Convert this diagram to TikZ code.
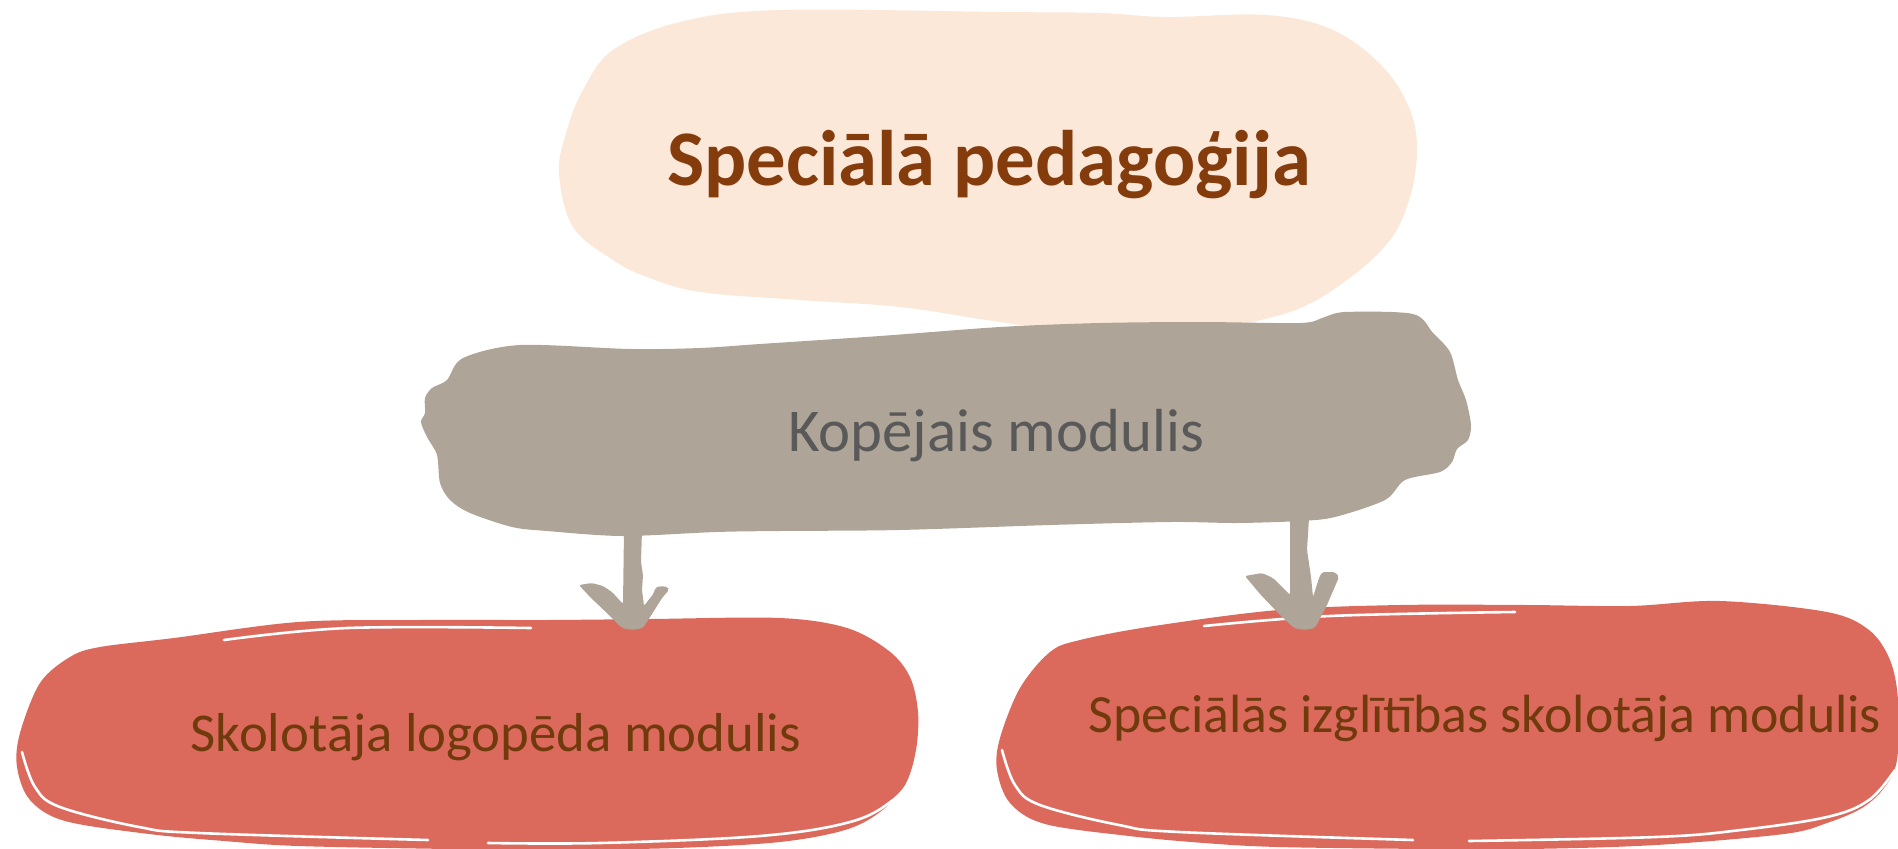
\documentclass[tikz,border=0pt]{standalone}
\usepackage{fontspec}
\setmainfont{Carlito}
\definecolor{peach}{HTML}{FBE8D8}
\definecolor{taupe}{HTML}{AEA497}
\definecolor{coral}{HTML}{DB6A5C}
\definecolor{titlebrown}{HTML}{843C0C}
\definecolor{midgray}{HTML}{595959}
\definecolor{textbrown}{HTML}{713A0C}
\tikzset{
  gap/.style={white, line width=2.6bp, line cap=round},
  arrowshape/.style={fill=taupe, rounded corners=2bp},
  lbl/.style={anchor=base, inner sep=0pt}
}
\begin{document}
\begin{tikzpicture}[x=1bp, y=-1bp]
\useasboundingbox (0,0) rectangle (1898,849);
% top blob
\fill[peach] plot[smooth cycle, tension=0.6] coordinates {(780,10) (1000,12) (1100,13) (1167,17) (1267,15) (1333,30) (1383,67) (1410,110) (1417,150) (1410,197) (1390,240) (1347,280) (1290,312) (1200,330) (1100,335) (1000,322) (900,307) (800,300) (700,292) (647,277) (613,260) (573,227) (559,173) (567,130) (583,90) (613,50) (680,22)};
% middle blob
\fill[taupe] plot[smooth cycle, tension=0.5] coordinates {(447,380) (463,358) (520,345) (630,349) (700,348) (760,344) (880,336) (1000,327) (1100,323) (1200,322) (1300,323) (1322,318) (1345,312) (1413,314) (1433,333) (1450,352) (1458,380) (1466,400) (1471,425) (1468,440) (1457,449) (1452,462) (1440,472) (1405,480) (1385,500) (1335,517) (1300,521) (1237,523) (1170,522) (1050,525) (900,530) (780,531) (716,532) (622,536) (547,531) (512,527) (470,513) (450,500) (440,483) (437,455) (427,437) (421,422) (425,413) (425,398) (432,388)};
% bottom left blob
\fill[coral] plot[smooth cycle, tension=0.55] coordinates {(100,647) (174,638) (298,622) (420,620) (547,620) (650,619) (780,618) (847,628) (889,651) (910,677) (918,712) (916,750) (905,785) (880,812) (845,830) (780,842) (676,848) (550,850) (448,849) (298,846) (224,841) (149,834) (65,821) (30,800) (17,767) (20,733) (40,683) (70,657)};
\draw[gap] plot[smooth, tension=0.6] coordinates {(224,640) (348,628) (531,628)};
\draw[gap] plot[smooth, tension=0.6] coordinates {(22,752) (35,787) (60,807) (139,827) (199,833) (428,840)};
\draw[gap] plot[smooth, tension=0.6] coordinates {(916,773) (893,800) (850,822) (760,836) (600,843) (488,843)};
% bottom right blob
\fill[coral] plot[smooth cycle, tension=0.55] coordinates {(1080,640) (1154,626) (1278,610) (1400,605) (1527,605) (1630,606) (1720,601) (1827,612) (1869,630) (1890,660) (1898,700) (1897,760) (1884,788) (1862,808) (1827,823) (1784,834) (1656,845) (1530,849) (1428,849) (1278,847) (1204,843) (1129,836) (1045,824) (1010,803) (997,770) (1000,738) (1020,688) (1050,652)};
\draw[gap] plot[smooth, tension=0.6] coordinates {(1204,626) (1330,616) (1515,612)};
\draw[gap] plot[smooth, tension=0.6] coordinates {(1002,750) (1015,785) (1040,805) (1119,825) (1179,832) (1413,840)};
\draw[gap] plot[smooth, tension=0.6] coordinates {(1895,770) (1869,800) (1827,817) (1741,830) (1656,837) (1469,841)};
% arrows
\coordinate (a1) at (632,630);
\coordinate (a2) at (1304,630);
\fill[arrowshape] (624,530) -- (623,604) -- (612,592) -- (603,586) -- (592,583) -- (579,585) -- (590,597) -- (608,614) -- (622,628) -- (a1) -- (643,628) -- (652,614) -- (662,598) -- (669,590) -- (668,587) -- (660,586) -- (655,588) -- (654,593) -- (644,606) -- (642,590) -- (643,575) -- (641,562) -- (642,530) -- cycle;
\fill[arrowshape] (1290,518) -- (1290,595) -- (1273,578) -- (1262,573) -- (1245,576) -- (1260,594) -- (1280,615) -- (1294,628) -- (a2) -- (1315,628) -- (1327,605) -- (1339,577) -- (1335,572) -- (1322,572) -- (1319,578) -- (1313,597) -- (1311,577) -- (1307,550) -- (1309,518) -- cycle;
% texts
\node[lbl, font=\fontsize{79}{90}\selectfont\bfseries, text=titlebrown] (title) at (989,185) {Speciālā pedagoģija};
\node[lbl, font=\fontsize{61}{70}\selectfont, text=midgray] (common) at (996,451) {Kopējais modulis};
\node[lbl, font=\fontsize{55}{64}\selectfont, text=textbrown] (left) at (496,751) {Skolotāja logopēda modulis};
\node[lbl, font=\fontsize{54}{62}\selectfont, text=textbrown] (right) at (1485,732) {Speciālās izglītības skolotāja modulis};
\end{tikzpicture}
\end{document}
